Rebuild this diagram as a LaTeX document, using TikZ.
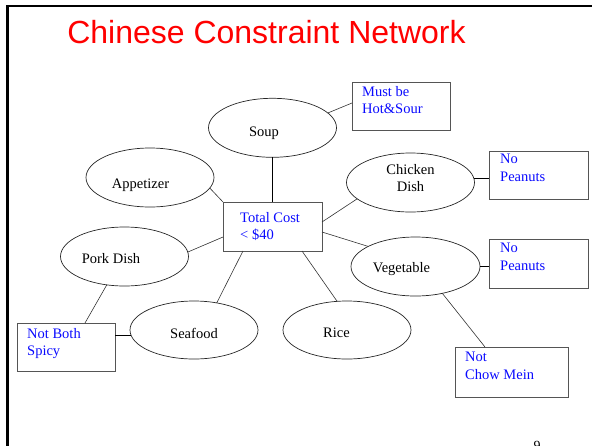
\documentclass[tikz,border=0pt]{standalone}
\usepackage{fontspec}
\setmainfont{Liberation Serif}
\newfontfamily\titlefont{Liberation Sans}
\usetikzlibrary{shapes.geometric}
\definecolor{inkblue}{RGB}{10,10,255}
\definecolor{titlered}{RGB}{255,0,0}
\definecolor{boxgray}{RGB}{85,85,85}
\begin{document}
\begin{tikzpicture}[x=1pt, y=-1pt,
  var/.style={ellipse, draw=black!85, line width=0.7pt, minimum width=128pt,
    minimum height=59pt, inner sep=0pt, outer sep=0pt},
  vtext/.style={font=\fontsize{14.5}{17.5}\selectfont, text=black, inner sep=0pt,
    label distance=0pt},
  cbox/.style={rectangle, draw=boxgray, line width=0.9pt, inner sep=0pt, outer sep=0pt},
  ctext/.style={font=\fontsize{14.5}{17.5}\selectfont, text=inkblue, align=left,
    inner sep=0pt, label distance=0pt, anchor=north west},
  link/.style={draw=black!80, line width=0.6pt},
  stub/.style={draw=black, line width=1pt},
]
\useasboundingbox (0,0) rectangle (592,445);
\clip (0,0) rectangle (592,445);

% slide frame
\draw[line width=2.4pt] (7.5,450) -- (7.5,6.2) -- (600,6.2);

% title
\node[font=\titlefont\fontsize{32}{36}\selectfont, text=titlered, anchor=base,
  inner sep=0pt] (title) at (266.5,43.3) {Chinese Constraint Network};

% central constraint
\node[cbox, minimum width=99pt, minimum height=49pt,
  label={[ctext, xshift=17pt, yshift=-10pt]north west:{Total Cost\\< \$40}}]
  (tc) at (272.5,226.5) {};

% variables
\node[var, label={[vtext, anchor=base, xshift=-8.5pt, yshift=-5pt]center:Soup}]
  (soup) at (272.5,127.8) {};
\node[var, label={[vtext, anchor=base, xshift=-9.5pt, yshift=-8pt]center:Appetizer}]
  (app) at (150,177.5) {};
\node[var, label={[vtext, align=center, anchor=center, yshift=4.5pt]center:{Chicken\\Dish}}]
  (chk) at (410.5,182.5) {};
\node[var, label={[vtext, anchor=base, xshift=-13.5pt, yshift=-2.5pt]center:Pork Dish}]
  (pork) at (124.5,256.5) {};
\node[var, minimum width=129pt, label={[vtext, anchor=base, xshift=-14pt, yshift=-2.5pt]center:Vegetable}]
  (veg) at (415.5,266.5) {};
\node[var, minimum height=58pt, label={[vtext, anchor=base, yshift=-3.3pt]center:Seafood}]
  (sea) at (194,330) {};
\node[var, minimum height=58pt, label={[vtext, anchor=base, xshift=-10.5pt, yshift=-3pt]center:Rice}]
  (rice) at (347,330) {};

% unary constraints
\node[cbox, minimum width=98pt, minimum height=48pt,
  label={[ctext, xshift=10pt, yshift=-4pt]north west:{Must be\\Hot\&Sour}}]
  (hs) at (401,106) {};
\node[cbox, minimum width=99pt, minimum height=48pt,
  label={[ctext, xshift=11pt, yshift=-3pt]north west:{No\\Peanuts}}]
  (np1) at (538.5,175) {};
\node[cbox, minimum width=99pt, minimum height=49pt,
  label={[ctext, xshift=11pt, yshift=-4pt]north west:{No\\Peanuts}}]
  (np2) at (538.5,263.5) {};
\node[cbox, minimum width=113pt, minimum height=50pt,
  label={[ctext, xshift=10pt, yshift=-5pt]north west:{Not\\Chow Mein}}]
  (ncm) at (511.5,372) {};
\node[cbox, minimum width=98pt, minimum height=48pt,
  label={[ctext, xshift=10pt, yshift=-5pt]north west:{Not Both\\Spicy}}]
  (nbs) at (66,347) {};

% connectors
\draw[stub] (soup) -- (tc);
\draw[link] (soup.15) -- ([yshift=3pt]hs.west);
\draw[link] (app.-10) -- (tc.north west);
\draw[link] ([yshift=4.5pt]tc.east) -- (chk.197);
\draw[link] ([yshift=-5.5pt]tc.east) -- (veg.157);
\draw[link] ([xshift=29.5pt]tc.south) -- (rice.109);
\draw[link] ([xshift=-29.5pt]tc.south) -- (sea.50);
\draw[link] ([yshift=-10.5pt]tc.west) -- (pork.4);
\draw[link] (pork.238) -- ([xshift=19pt]nbs.north);
\draw[stub] (sea.185) -- (sea.185 -| nbs.east);
\draw[stub] (chk.4) -- (chk.4 -| np1.west);
\draw[stub] (veg.east) -- (veg.east -| np2.west);
\draw[link] (veg.-45) -- ([xshift=-26.5pt]ncm.north);

% page number
\node[font=\fontsize{14}{16}\selectfont, anchor=base, inner sep=0pt] (pagenum)
  at (537,450) {9};
\end{tikzpicture}
\end{document}
